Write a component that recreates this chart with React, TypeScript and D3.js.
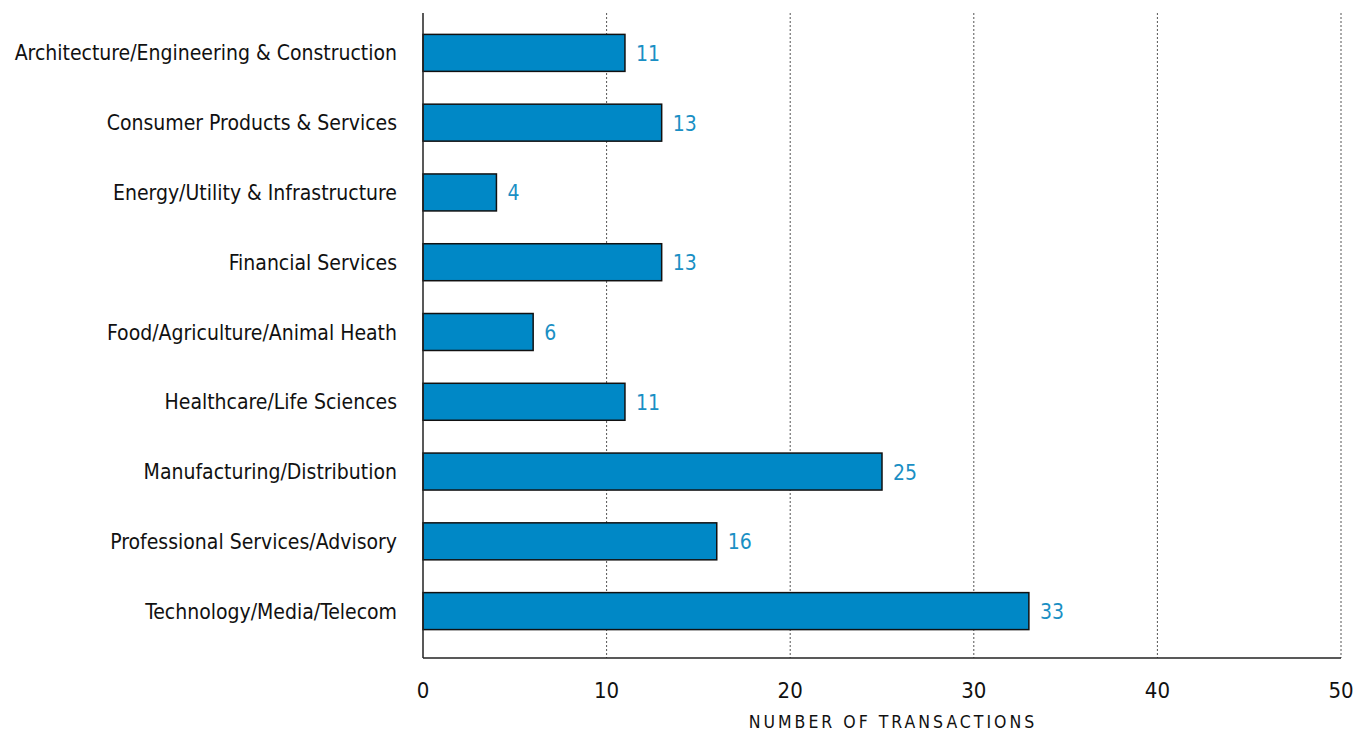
import React from "react";
import * as d3 from "d3";

const categories = [
  "Architecture/Engineering & Construction",
  "Consumer Products & Services",
  "Energy/Utility & Infrastructure",
  "Financial Services",
  "Food/Agriculture/Animal Heath",
  "Healthcare/Life Sciences",
  "Manufacturing/Distribution",
  "Professional Services/Advisory",
  "Technology/Media/Telecom",
];
const values = [11, 13, 4, 13, 6, 11, 25, 16, 33];
const xTicks = [0, 10, 20, 30, 40, 50];
const axisTitle = "NUMBER OF TRANSACTIONS";

const W = 1356;
const H = 732;
const left = 423;
const right = 1341;
const axisY = 658;
const topY = 13;

const FONT = "'DejaVu Sans Condensed', 'DejaVu Sans', sans-serif";

export default function App() {
  const x = d3.scaleLinear().domain([0, 50]).range([left, right]);
  const y = d3
    .scaleBand<string>()
    .domain(categories)
    .range([18, 646])
    .paddingInner(0.47)
    .paddingOuter(0.235);
  return (
    <svg width={W} height={H} style={{ position: "absolute", left: 0, top: 0 }}>
      <rect width={W} height={H} fill="#fff" />
      {xTicks.slice(1).map((t) => (
        <line
          key={t}
          x1={x(t)}
          x2={x(t)}
          y1={topY}
          y2={axisY}
          stroke="#555"
          strokeWidth={1}
          strokeDasharray="2,2"
        />
      ))}
      {categories.map((c, i) => (
        <g key={c}>
          <rect
            x={x(0)}
            y={y(c)!}
            width={x(values[i]) - x(0)}
            height={y.bandwidth()}
            fill="#0088c6"
            stroke="#111"
            strokeWidth={1.5}
          />
          <text
            x={x(values[i]) + 11}
            y={y(c)! + y.bandwidth() / 2}
            dy="0.38em"
            fill="#1a8fc4"
            fontSize={21}
            fontFamily={FONT}
          >
            {values[i]}
          </text>
          <text
            x={397}
            y={y(c)! + y.bandwidth() / 2}
            dy="0.36em"
            textAnchor="end"
            fill="#111"
            fontSize={21}
            fontFamily={FONT}
          >
            {c}
          </text>
        </g>
      ))}
      <line x1={left} x2={left} y1={topY} y2={axisY} stroke="#222" strokeWidth={1.5} />
      <line x1={left} x2={right} y1={axisY} y2={axisY} stroke="#222" strokeWidth={1.5} />
      {xTicks.map((t) => (
        <text
          key={t}
          x={x(t)}
          y={690}
          dy="0.36em"
          textAnchor="middle"
          fill="#111"
          fontSize={22}
          fontFamily={FONT}
        >
          {t}
        </text>
      ))}
      <text
        x={893}
        y={722}
        dy="0.36em"
        textAnchor="middle"
        fill="#111"
        fontSize={17.5}
        letterSpacing={3}
        fontFamily={FONT}
      >
        {axisTitle}
      </text>
    </svg>
  );
}
